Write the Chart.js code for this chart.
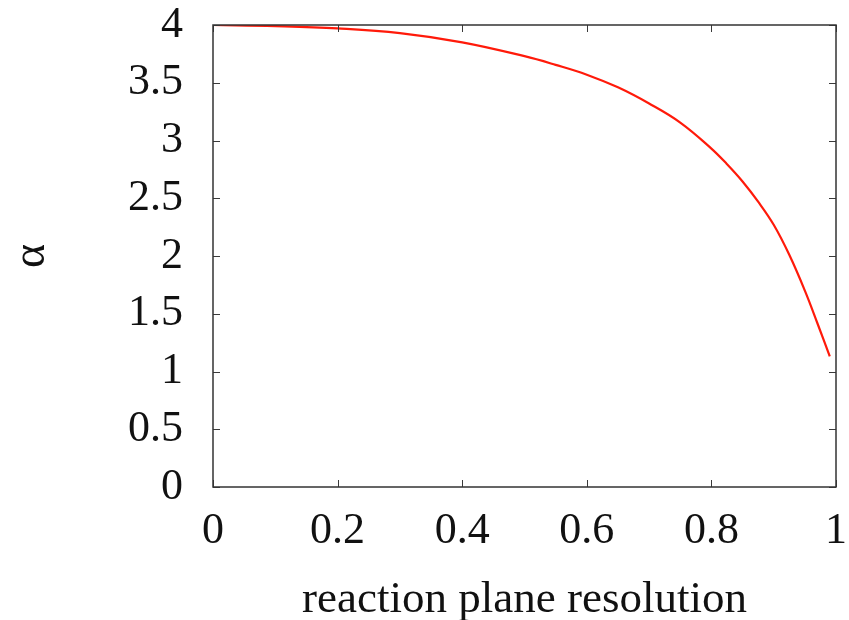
<!DOCTYPE html>
<html>
<head>
<meta charset="utf-8">
<script src="https://cdn.jsdelivr.net/npm/chart.js@4"></script>
<style>
  html, body { margin: 0; padding: 0; background: #fff; }
  #wrap { width: 849px; height: 620px; }
</style>
</head>
<body>
<div id="wrap"><canvas id="alphaChart" width="849" height="620"></canvas></div>
<script>
// values
const resolution = [0, 0.1, 0.2, 0.3, 0.4, 0.5, 0.55, 0.6, 0.65, 0.7, 0.75, 0.8, 0.825, 0.85, 0.875, 0.9, 0.925, 0.95, 0.97, 0.99];
const alphaValues = [4.0, 3.99, 3.97, 3.93, 3.85, 3.73, 3.655, 3.57, 3.46, 3.32, 3.155, 2.93, 2.795, 2.645, 2.47, 2.27, 2.01, 1.70, 1.42, 1.13];

const xTicks = [0, 0.2, 0.4, 0.6, 0.8, 1];
const xTickLabels = ["0", "0.2", "0.4", "0.6", "0.8", "1"];
const yTicks = [0, 0.5, 1, 1.5, 2, 2.5, 3, 3.5, 4];
const yTickLabels = ["0", "0.5", "1", "1.5", "2", "2.5", "3", "3.5", "4"];

const serif = "'Liberation Serif', 'DejaVu Serif', serif";

// box round the plot + small inward ticks on all four sides
const frameTicks = {
    id: "frameTicks",
    afterDraw(chart) {
        const ctx = chart.ctx;
        const area = chart.chartArea;
        const xs = chart.scales.x;
        const ys = chart.scales.y;
        const len = 7;
        ctx.save();
        ctx.strokeStyle = "#3a3a3a";
        ctx.lineWidth = 1;
        ctx.beginPath();
        xTicks.forEach(v => {
            const px = Math.round(xs.getPixelForValue(v)) + 0.5;
            ctx.moveTo(px, area.bottom);
            ctx.lineTo(px, area.bottom - len);
            ctx.moveTo(px, area.top);
            ctx.lineTo(px, area.top + len);
        });
        yTicks.forEach(v => {
            const py = Math.round(ys.getPixelForValue(v)) + 0.5;
            ctx.moveTo(area.left, py);
            ctx.lineTo(area.left + len, py);
            ctx.moveTo(area.right, py);
            ctx.lineTo(area.right - len, py);
        });
        ctx.stroke();
        ctx.lineWidth = 1.5;
        ctx.strokeStyle = "#333";
        ctx.strokeRect(area.left, area.top, area.right - area.left, area.bottom - area.top);
        ctx.restore();
    }
};

new Chart(document.getElementById("alphaChart").getContext("2d"), {
    type: "line",
    data: {
        labels: resolution,
        datasets: [{
            data: resolution.map((r, i) => ({ x: r, y: alphaValues[i] })),
            borderColor: "#ff1a0a",
            borderWidth: 2.2,
            pointRadius: 0,
            fill: false,
            tension: 0.4
        }]
    },
    options: {
        responsive: false,
        animation: false,
        layout: { padding: 0 },
        plugins: {
            legend: { display: false },
            tooltip: { enabled: false }
        },
        scales: {
            x: {
                type: "linear",
                min: 0,
                max: 1,
                afterBuildTicks: scale => { scale.ticks = xTicks.map(v => ({ value: v })); },
                afterFit: scale => {
                    scale.height = 133;
                    scale.paddingLeft = 0;
                    scale.paddingRight = 13;
                },
                grid: { display: false, drawTicks: false },
                border: { display: false },
                ticks: {
                    padding: 18,
                    color: "#111",
                    maxRotation: 0,
                    autoSkip: false,
                    font: { family: serif, size: 44 },
                    callback: (v, i) => xTickLabels[i]
                },
                title: {
                    display: true,
                    text: "reaction plane resolution",
                    color: "#111",
                    font: { family: serif, size: 45, lineHeight: 0.9 },
                    padding: { top: 0, bottom: 0 }
                }
            },
            y: {
                min: 0,
                max: 4,
                afterBuildTicks: scale => { scale.ticks = yTicks.map(v => ({ value: v })); },
                afterFit: scale => {
                    scale.width = 213;
                    scale.paddingTop = 25;
                    scale.paddingBottom = 0;
                },
                grid: { display: false, drawTicks: false },
                border: { display: false },
                ticks: {
                    padding: 30,
                    color: "#111",
                    autoSkip: false,
                    font: { family: serif, size: 44 },
                    callback: (v, i) => yTickLabels[i]
                },
                title: {
                    display: true,
                    text: "α",
                    color: "#111",
                    font: { family: serif, size: 46, lineHeight: 1 },
                    padding: { top: 9, bottom: 0 }
                }
            }
        }
    },
    plugins: [frameTicks]
});
</script>
</body>
</html>
